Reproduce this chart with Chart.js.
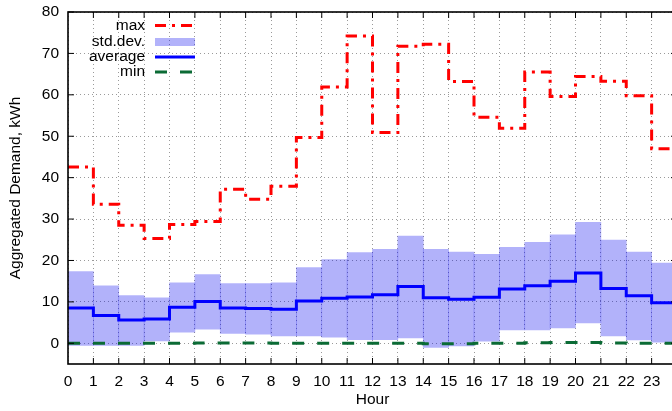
<!DOCTYPE html>
<html>
<head>
<meta charset="utf-8">
<script src="https://cdn.jsdelivr.net/npm/chart.js@4"></script>
<style>
  html, body { margin: 0; padding: 0; background: #fff; overflow: hidden; }
  #wrap { width: 680px; height: 411px; }
</style>
</head>
<body>
<div id="wrap"><canvas id="demandChart" width="680" height="411"></canvas></div>
<script>
// hourly values, each one holds for [h, h+1)
const hours = [0, 1, 2, 3, 4, 5, 6, 7, 8, 9, 10, 11, 12, 13, 14, 15, 16, 17, 18, 19, 20, 21, 22, 23];
const maxDemand = [42.6, 33.6, 28.5, 25.3, 28.7, 29.4, 37.2, 34.8, 37.9, 49.7, 61.9, 74.2,
                   50.9, 71.7, 72.2, 63.2, 54.6, 51.9, 65.5, 59.6, 64.4, 63.3, 59.8, 47.0];
const avgDemand = [8.5, 6.7, 5.6, 5.85, 8.7, 10.1, 8.5, 8.4, 8.2, 10.2, 10.9, 11.2,
                   11.7, 13.7, 11.0, 10.65, 11.1, 13.1, 13.9, 15.0, 17.0, 13.25, 11.5, 9.8];
const stdUpper = [17.3, 13.9, 11.5, 11.0, 14.6, 16.6, 14.4, 14.4, 14.6, 18.3, 20.2, 21.9,
                  22.7, 25.9, 22.7, 22.0, 21.5, 23.2, 24.4, 26.2, 29.2, 24.9, 22.0, 19.4];
const stdLower = [-0.5, -0.5, -0.5, 0.6, 2.7, 3.4, 2.4, 2.2, 1.8, 1.8, 1.5, 0.9,
                  0.9, 1.3, -1.0, -0.65, 0.5, 3.2, 3.2, 3.7, 4.9, 1.8, 0.8, 0.3];
const minDemand = [0, 0, 0, 0, 0, 0.1, 0.1, 0.05, 0, 0, 0, 0,
                   0, 0, -0.1, -0.1, 0, 0, 0.15, 0.2, 0.2, 0.1, 0, 0];
const yTicks = [0, 10, 20, 30, 40, 50, 60, 70, 80];

const FONT = 'Liberation Sans, Arial, Helvetica, sans-serif';
const RED = '#ff0000', BLUE = '#0000ff', GREEN = '#0b6b35', BAND = 'rgba(0,0,240,0.3)';
const RED_DASH = [11, 6, 3, 6], GREEN_DASH = [12, 13];

// step line: one point per hour plus a closing point at 24
function stepPoints(vals) {
    const pts = hours.map((h, i) => ({x: h, y: vals[i]}));
    pts.push({x: 24, y: vals[vals.length - 1]});
    return pts;
}

const legendItems = [
    {label: 'max', kind: 'line', color: RED, dash: RED_DASH},
    {label: 'std.dev.', kind: 'box', color: BAND},
    {label: 'average', kind: 'line', color: BLUE, dash: []},
    {label: 'min', kind: 'line', color: GREEN, dash: GREEN_DASH}
];

const framePlugin = {
    id: 'frame',
    afterDatasetsDraw(chart) {
        const {ctx, chartArea: a, scales: {x, y}} = chart;
        ctx.save();
        ctx.strokeStyle = '#000';
        ctx.lineWidth = 1;
        ctx.setLineDash([]);
        ctx.beginPath();
        for (let h = 1; h < 24; h++) {
            const px = x.getPixelForValue(h);
            ctx.moveTo(px, a.bottom); ctx.lineTo(px, a.bottom - 6);
            ctx.moveTo(px, a.top); ctx.lineTo(px, a.top + 6);
        }
        yTicks.forEach(v => {
            const py = y.getPixelForValue(v);
            ctx.moveTo(a.left, py); ctx.lineTo(a.left + 6, py);
            ctx.moveTo(a.right, py); ctx.lineTo(a.right - 6, py);
        });
        ctx.stroke();
        ctx.lineWidth = 1.6;
        ctx.strokeRect(a.left, a.top, a.right - a.left, a.bottom - a.top);

        // key, top left inside the plot
        ctx.font = '15.5px ' + FONT;
        ctx.textAlign = 'right';
        ctx.textBaseline = 'middle';
        const rows = [25.5, 42, 57, 72];
        legendItems.forEach((it, i) => {
            const cy = rows[i];
            ctx.fillStyle = '#000';
            ctx.fillText(it.label, 145, cy);
            if (it.kind === 'box') {
                ctx.fillStyle = it.color;
                ctx.fillRect(155, cy - 4, 40, 8);
            } else {
                ctx.strokeStyle = it.color;
                ctx.lineWidth = 3;
                ctx.setLineDash(it.dash);
                ctx.beginPath();
                ctx.moveTo(155, cy); ctx.lineTo(195, cy);
                ctx.stroke();
            }
        });
        ctx.restore();
    }
};

new Chart(document.getElementById('demandChart'), {
    type: 'line',
    data: {
        datasets: [
            {
                type: 'bar',
                label: 'std.dev.',
                data: hours.map((h, i) => ({x: h + 0.5, y: [stdLower[i], stdUpper[i]]})),
                backgroundColor: BAND,
                borderWidth: 0,
                barPercentage: 1,
                categoryPercentage: 1,
                order: 4
            },
            {
                label: 'min',
                data: stepPoints(minDemand),
                borderColor: GREEN,
                borderWidth: 3,
                borderDash: GREEN_DASH,
                stepped: true,
                pointRadius: 0,
                fill: false,
                order: 3
            },
            {
                label: 'average',
                data: stepPoints(avgDemand),
                borderColor: BLUE,
                borderWidth: 3,
                stepped: true,
                pointRadius: 0,
                fill: false,
                order: 2
            },
            {
                label: 'max',
                data: stepPoints(maxDemand),
                borderColor: RED,
                borderWidth: 3,
                borderDash: RED_DASH,
                stepped: true,
                pointRadius: 0,
                fill: false,
                order: 1
            }
        ]
    },
    options: {
        responsive: false,
        animation: false,
        devicePixelRatio: 1,
        layout: {padding: {top: 12, right: 3, left: 0, bottom: 0}},
        plugins: {legend: {display: false}, tooltip: {enabled: false}},
        scales: {
            x: {
                type: 'linear',
                min: 0,
                max: 24,
                offset: false,
                afterBuildTicks: s => { s.ticks = hours.map(h => ({value: h})).concat([{value: 24}]); },
                afterFit: s => { s.height = 47; s.paddingLeft = 0; s.paddingRight = 0; },
                grid: {color: '#9a9a9a', lineWidth: 1, drawTicks: false, offset: false},
                border: {display: false, dash: [1, 3]},
                ticks: {
                    color: '#000',
                    padding: 8,
                    maxRotation: 0,
                    autoSkip: false,
                    font: {family: FONT, size: 15.5},
                    callback: v => (v < 24 ? String(v) : '')
                },
                title: {
                    display: true,
                    text: 'Hour',
                    color: '#000',
                    font: {family: FONT, size: 15.5},
                    padding: {top: 0, bottom: 2}
                }
            },
            y: {
                min: -5,
                max: 80,
                afterBuildTicks: s => { s.ticks = yTicks.map(v => ({value: v})); },
                afterFit: s => { s.width = 68; s.paddingTop = 0; s.paddingBottom = 0; },
                grid: {color: '#9a9a9a', lineWidth: 1, drawTicks: false},
                border: {display: false, dash: [1, 3]},
                ticks: {
                    color: '#000',
                    padding: 9,
                    font: {family: FONT, size: 15.5}
                },
                title: {
                    display: true,
                    text: 'Aggregated Demand, kWh',
                    color: '#000',
                    font: {family: FONT, size: 15.5},
                    padding: {top: 6, bottom: 0}
                }
            }
        }
    },
    plugins: [framePlugin]
});
</script>
</body>
</html>
